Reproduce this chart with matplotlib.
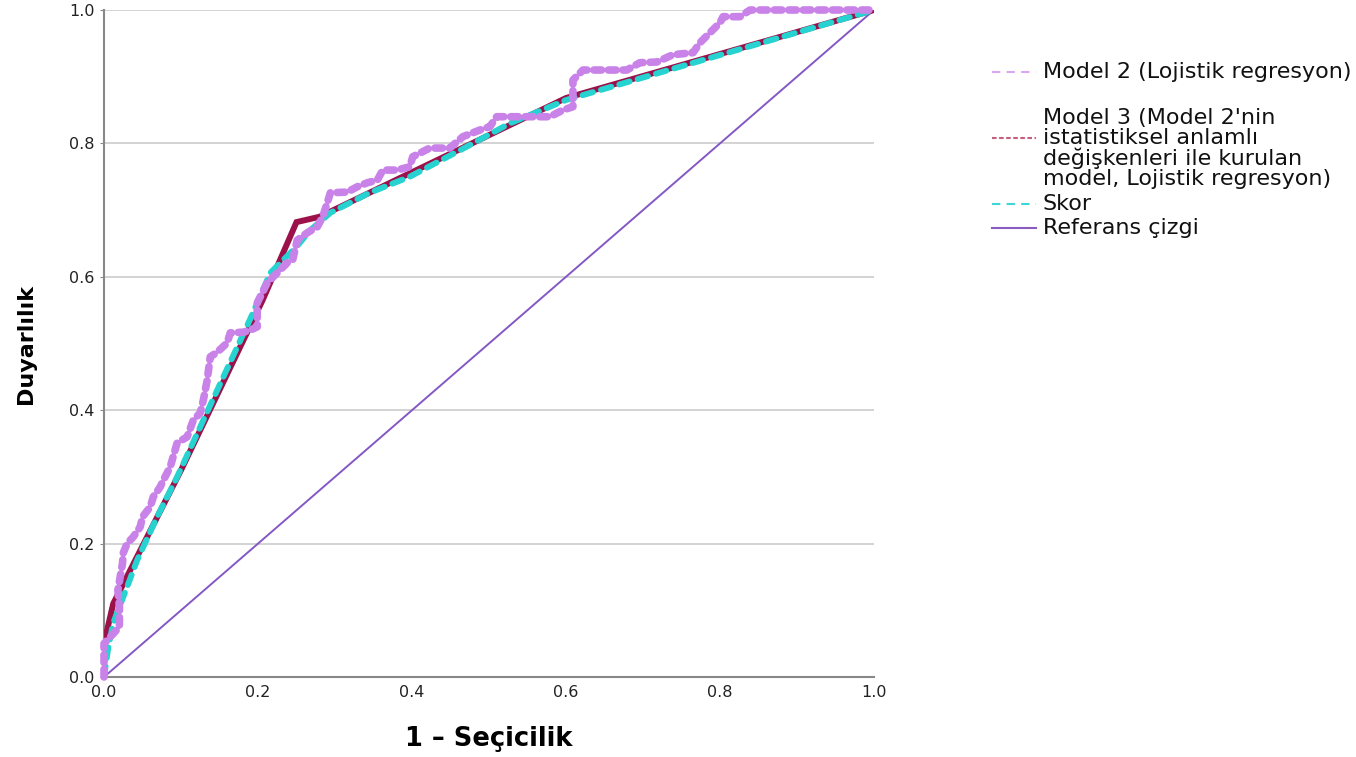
import matplotlib
matplotlib.use("Agg")
import matplotlib.pyplot as plt
from matplotlib.lines import Line2D

# ROC curve values
m2_fpr = [0.0, 0.0, 0.008, 0.02, 0.02, 0.018, 0.021, 0.024, 0.025, 0.03, 0.038, 0.047,
          0.05, 0.06, 0.064, 0.073, 0.077, 0.082, 0.086, 0.095, 0.108, 0.116, 0.125,
          0.129, 0.134, 0.138, 0.147, 0.16, 0.164, 0.181, 0.19, 0.199, 0.199, 0.199,
          0.212, 0.225, 0.238, 0.245, 0.251, 0.264, 0.277, 0.284, 0.29, 0.294, 0.316,
          0.329, 0.342, 0.355, 0.362, 0.381, 0.397, 0.401, 0.423, 0.449, 0.466, 0.488,
          0.501, 0.51, 0.579, 0.596, 0.609, 0.609, 0.622, 0.679, 0.696, 0.718, 0.739,
          0.765, 0.774, 0.787, 0.8, 0.804, 0.826, 0.839, 1.0]
m2_tpr = [0.0, 0.05, 0.06, 0.075, 0.105, 0.13, 0.15, 0.17, 0.186, 0.2, 0.21, 0.225,
          0.24, 0.255, 0.27, 0.285, 0.295, 0.306, 0.315, 0.351, 0.36, 0.385, 0.396,
          0.415, 0.445, 0.48, 0.487, 0.501, 0.516, 0.517, 0.52, 0.525, 0.546, 0.561,
          0.591, 0.606, 0.621, 0.625, 0.655, 0.666, 0.675, 0.69, 0.711, 0.726, 0.727,
          0.735, 0.741, 0.745, 0.76, 0.76, 0.765, 0.78, 0.793, 0.793, 0.81, 0.82,
          0.825, 0.84, 0.84, 0.85, 0.855, 0.895, 0.91, 0.91, 0.921, 0.922, 0.933,
          0.936, 0.951, 0.966, 0.981, 0.99, 0.99, 1.0, 1.0]

m3_fpr = [0.0, 0.0, 0.012, 0.1, 0.206, 0.25, 0.28, 0.6, 1.0]
m3_tpr = [0.0, 0.05, 0.11, 0.31, 0.565, 0.682, 0.69, 0.868, 1.0]

skor_fpr = [0.0, 0.005, 0.012, 0.03, 0.043, 0.069, 0.095, 0.147, 0.19, 0.216, 0.25,
            0.268, 0.294, 0.345, 0.397, 0.471, 0.527, 0.6, 1.0]
skor_tpr = [0.0, 0.04, 0.081, 0.135, 0.175, 0.24, 0.30, 0.43, 0.537, 0.606, 0.645,
            0.67, 0.696, 0.726, 0.75, 0.795, 0.83, 0.865, 1.0]

ref_xy = [0.0, 1.0]

ticks = [0.0, 0.2, 0.4, 0.6, 0.8, 1.0]
tick_labels = ["0.0", "0.2", "0.4", "0.6", "0.8", "1.0"]

labels = ["Model 2 (Lojistik regresyon)",
          "Model 3 (Model 2'nin\nistatistiksel anlamlı\ndeğişkenleri ile kurulan\nmodel, Lojistik regresyon)",
          "Skor",
          "Referans çizgi"]

W, H = 1356, 757
fig = plt.figure(figsize=(W / 100, H / 100), dpi=100)
ax = fig.add_axes([104 / W, 1 - 677 / H, 770 / W, 667 / H])

ax.plot(ref_xy, ref_xy, color="#8458c4", lw=1.4, zorder=2)
ax.plot(m3_fpr, m3_tpr, color="#9c1149", lw=4.3, solid_joinstyle="miter", zorder=3)
ax.plot(skor_fpr, skor_tpr, color="#27d3d0", lw=4.3, linestyle=(0, (1.8, 1.4)),
        dash_capstyle="round", zorder=4)
ax.plot(m2_fpr, m2_tpr, color="#c983e8", lw=5.5, linestyle=(0, (1.0, 0.9)),
        dash_capstyle="round", zorder=5, clip_on=False)

ax.set_xlim(0, 1)
ax.set_ylim(0, 1)
ax.set_xticks(ticks)
ax.set_xticklabels(tick_labels)
ax.set_yticks(ticks)
ax.set_yticklabels(tick_labels)
ax.tick_params(axis="both", labelsize=11.5, colors="#222222")
ax.tick_params(axis="y", length=3, color="#888888", pad=4)
ax.tick_params(axis="x", length=0, pad=6)

ax.grid(axis="y", color="#c8c8c8", lw=1.1)
ax.set_axisbelow(True)
for s in ["top", "right"]:
    ax.spines[s].set_visible(False)
for s in ["left", "bottom"]:
    ax.spines[s].set_color("#888888")
    ax.spines[s].set_linewidth(1.5)

ax.set_xlabel("1 – Seçicilik", fontsize=18.5, fontweight="bold")
ax.set_ylabel("Duyarlılık", fontsize=16, fontweight="bold")
ax.xaxis.set_label_coords(0.5, -0.074)
ax.yaxis.set_label_coords(-0.088, 0.5)

# legend drawn by hand, outside the axes
legend_y = [72, 148.5, 204, 228]
handle_y = [72, 138, 204, 228]
styles = [dict(color="#dca6f0", lw=1.5, linestyle=(0, (4, 3))),
          dict(color="#c4607e", lw=1.5, linestyle=(0, (2.2, 1.2))),
          dict(color="#3ed6d6", lw=1.5, linestyle=(0, (4, 3))),
          dict(color="#8a5cc0", lw=1.5, linestyle="-")]
for lab, ty, hy, st in zip(labels, legend_y, handle_y, styles):
    fig.add_artist(Line2D([992 / W, 1036 / W], [1 - hy / H, 1 - hy / H], **st))
    fig.text(1043 / W, 1 - ty / H, lab, fontsize=16, va="center", ha="left",
             color="#111111", linespacing=0.98)

fig.savefig("out.png", dpi=100)
